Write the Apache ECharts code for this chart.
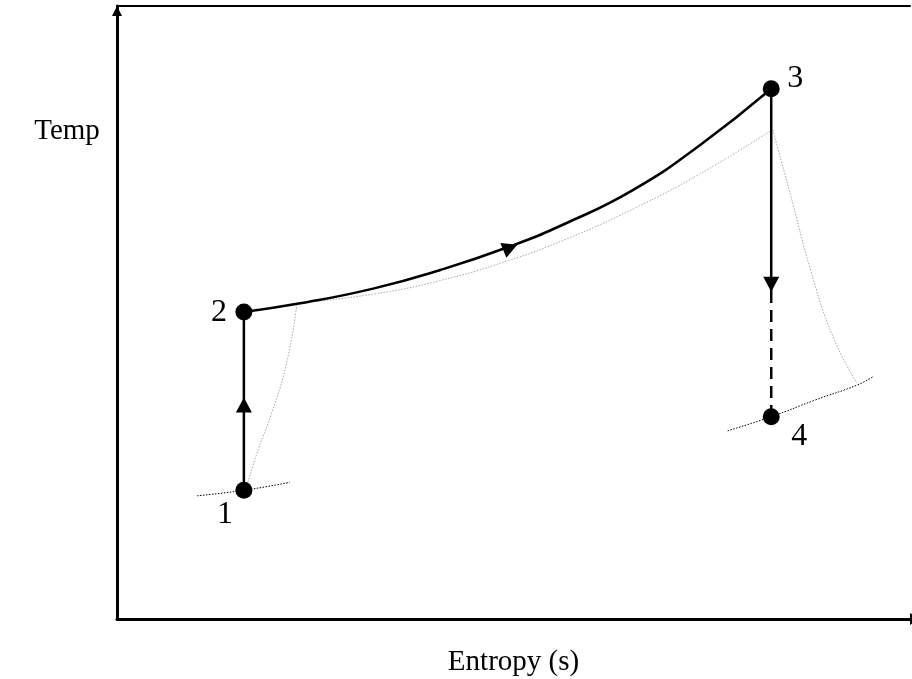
<!DOCTYPE html>
<html>
<head>
<meta charset="utf-8">
<script src="https://cdn.jsdelivr.net/npm/echarts@6/dist/echarts.min.js"></script>
<style>html,body{margin:0;padding:0;background:#fff}#c{width:912px;height:679px}</style>
</head>
<body>
<div id="c"></div>
<script>
// State points (entropy, temperature) in arbitrary units 0..100
const stateNames = ['1', '2', '3', '4'];
const statePoints = [[16.0, 21.0], [16.0, 50.1], [82.5, 86.5], [82.5, 33.0]];
// Actual heat addition 2 -> 3
const heatAddition = [[16.0, 50.1], [23.1, 51.5], [32.3, 53.9], [40.7, 56.9], [49.6, 60.8], [56.7, 64.6], [65.1, 70.0], [73.5, 77.3], [82.5, 86.5]];
// Ideal (grey dotted) path
const idealCompression = [[16.3, 21.4], [17.8, 27.6], [19.5, 33.6], [21.4, 41.8], [22.7, 51.5]];
const idealHeat = [[22.7, 51.5], [32.3, 53.0], [40.7, 55.2], [49.2, 58.4], [56.7, 62.0], [65.1, 66.9], [73.5, 72.6], [82.5, 79.7]];
const idealExpansion = [[82.7, 79.8], [85.2, 67.9], [87.4, 57.2], [90.3, 46.0], [93.3, 38.5]];
// Constant-pressure dotted lines
const lowIsobar1 = [[10.1, 20.1], [16.0, 21.0], [21.8, 22.3]];
const lowIsobar4 = [[77.0, 30.7], [82.5, 33.0], [88.0, 35.7], [93.4, 38.2], [95.3, 39.5]];
// Expansion 3 -> 4: solid part then dashed part
const expansionSolid = [[82.5, 86.5], [82.5, 53.5]];
const expansionDashed = [[82.5, 53.5], [82.5, 33.0]];
// Direction arrows: [s, T, rotation]
const arrows = [[16.0, 34.9, 0], [49.6, 60.6, -68], [82.5, 54.6, 180]];
const labelOffsets = [[-19, 24], [-25, 1], [24, -10], [28, 20]];

const serif = '"Liberation Serif", "Times New Roman", serif';
const grey = { color: '#a8a8a8', width: 1, type: [1.5, 1.5] };
const blackDot = { color: '#000', width: 1, type: [1.5, 1.5] };

function line(data, style, smooth) {
  return { type: 'line', data: data, showSymbol: false, symbol: 'none', smooth: smooth ? 0.5 : false,
    lineStyle: style, silent: true, animation: false, z: 2 };
}

const option = {
  animation: false,
  grid: { left: 117, right: 2, top: 6, bottom: 60, outerBoundsMode: 'none', containLabel: false },
  xAxis: [{
    type: 'value', min: 0, max: 100,
    name: 'Entropy (s)', nameLocation: 'middle', nameGap: 29,
    nameTextStyle: { fontFamily: serif, fontSize: 29, color: '#000' },
    axisLine: { lineStyle: { color: '#000', width: 3 }, symbol: ['none', 'triangle'], symbolSize: [12, 10], symbolOffset: [0, 5] },
    axisTick: { show: false }, axisLabel: { show: false }, splitLine: { show: false }
  }, {
    type: 'value', min: 0, max: 100, position: 'top',
    axisLine: { show: true, lineStyle: { color: '#000', width: 2 } },
    axisTick: { show: false }, axisLabel: { show: false }, splitLine: { show: false }
  }],
  yAxis: {
    type: 'value', min: 0, max: 100,
    axisLine: { lineStyle: { color: '#000', width: 3 }, symbol: ['none', 'triangle'], symbolSize: [10, 10], symbolOffset: [0, -5] },
    axisTick: { show: false }, axisLabel: { show: false }, splitLine: { show: false }
  },
  graphic: [{
    type: 'text', x: 67, y: 131,
    style: { text: 'Temp', fontFamily: serif, fontSize: 29, fill: '#000', textAlign: 'center', textVerticalAlign: 'middle' }
  }],
  series: [
    line(idealCompression, grey, true),
    line(idealHeat, grey, true),
    line(idealExpansion, grey, true),
    line(lowIsobar1, blackDot, true),
    line(lowIsobar4, blackDot, true),
    line([statePoints[0], statePoints[1]], { color: '#000', width: 2.5 }, false),
    line(heatAddition, { color: '#000', width: 2.5 }, true),
    line(expansionSolid, { color: '#000', width: 2.5 }, false),
    line(expansionDashed, { color: '#000', width: 2.5, type: [12, 7] }, false),
    {
      type: 'scatter', silent: true, z: 4,
      data: arrows.map(a => ({ value: [a[0], a[1]], symbolRotate: a[2] })),
      symbol: 'triangle', symbolSize: [16, 15],
      itemStyle: { color: '#000', opacity: 1 }
    },
    {
      type: 'scatter', silent: true, z: 5,
      data: statePoints.map((p, i) => ({
        value: p, name: stateNames[i],
        label: { show: true, formatter: stateNames[i], position: 'inside', offset: labelOffsets[i],
          fontFamily: serif, fontSize: 32, color: '#000', opacity: 1 }
      })),
      symbol: 'circle', symbolSize: 17,
      itemStyle: { color: '#000', opacity: 1 }
    }
  ]
};
echarts.init(document.getElementById('c')).setOption(option);
</script>
</body>
</html>
